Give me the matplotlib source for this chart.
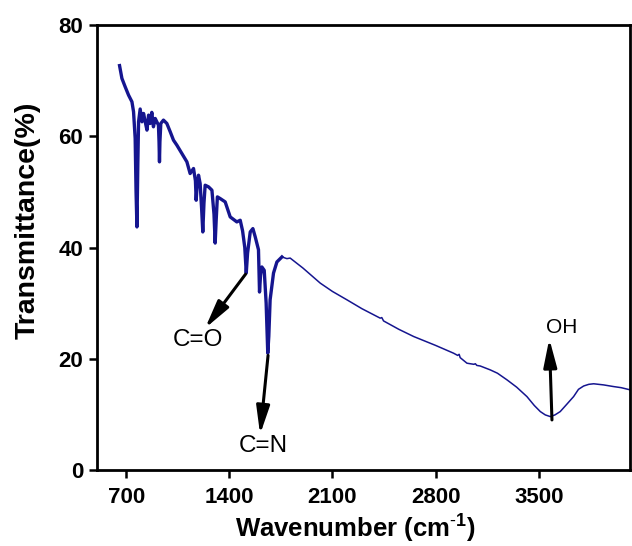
import matplotlib
matplotlib.use("Agg")
import matplotlib.pyplot as plt

plt.rcParams['font.family'] = ['Liberation Sans', 'DejaVu Sans']
plt.rcParams['mathtext.fontset'] = 'custom'
plt.rcParams['mathtext.rm'] = 'Liberation Sans'
plt.rcParams['mathtext.bf'] = 'Liberation Sans:bold'

# FTIR spectrum, wavenumber (cm-1) vs transmittance (%)
wavenumber = [655, 671, 693, 716, 739, 750, 761, 767, 773, 779, 784, 795, 807, 818,
              830, 841, 852, 863, 874, 885, 897, 908, 919, 923, 926, 929, 935, 953,
              976, 999, 1021, 1044, 1078, 1112, 1134, 1157, 1170, 1175, 1180, 1191,
              1202, 1212, 1220, 1228, 1236, 1259, 1282, 1296, 1304, 1311, 1319, 1338,
              1372, 1406, 1451, 1474, 1490, 1505, 1515, 1524, 1542, 1560, 1576, 1598,
              1605, 1612, 1621, 1637, 1650, 1661, 1668, 1677, 1700, 1723, 1757, 1791,
              1813, 1900, 2017, 2100, 2198, 2300, 2424, 2435, 2447, 2550, 2651, 2800,
              2922, 2950, 2960, 2967, 3013, 3060, 3070, 3080, 3103, 3171, 3220, 3285,
              3350, 3420, 3470, 3511, 3545, 3579, 3610, 3646, 3690, 3737, 3770, 3805,
              3840, 3873, 3940, 4008, 4060, 4122]
transmittance = [72.7, 70.4, 68.9, 67.4, 66.2, 64.4, 59.6, 50.0, 43.7, 55.0, 62.6, 64.9,
                 62.6, 64.1, 62.5, 61.1, 63.8, 62.3, 64.3, 61.7, 63.2, 62.6, 62.0, 59.0,
                 55.4, 59.0, 62.3, 62.9, 62.3, 60.8, 59.3, 58.4, 56.9, 55.4, 53.3, 54.2,
                 52.0, 48.5, 50.5, 53.0, 51.5, 47.0, 42.8, 48.0, 51.2, 50.9, 50.3, 46.0,
                 40.8, 45.0, 49.1, 48.8, 48.2, 45.5, 44.6, 44.9, 43.0, 40.0, 35.4, 39.0,
                 42.8, 43.4, 41.9, 39.6, 32.0, 35.0, 36.5, 35.9, 30.0, 21.0, 24.0, 30.6,
                 35.4, 37.4, 38.3, 38.0, 38.1, 36.3, 33.6, 32.1, 30.6, 29.0, 27.3, 27.4,
                 26.8, 25.3, 24.0, 22.4, 21.0, 20.6, 20.8, 20.2, 19.2, 19.0, 19.1, 18.8,
                 18.7, 18.0, 17.4, 16.2, 14.9, 13.2, 11.6, 10.5, 9.9, 9.6, 9.9, 10.5,
                 11.8, 13.2, 14.5, 15.1, 15.4, 15.5, 15.3, 15.0, 14.8, 14.4]

xticks = [700, 1400, 2100, 2800, 3500]
yticks = [0, 20, 40, 60, 80]

# band labels: text, text position, arrow tail (on curve), arrow head, font size
bands = [
    ("C=O", (1189, 23.4), (1510, 35.2), (1236, 25.5), 17.5),
    ("C=N", (1630, 4.4), (1663, 20.6), (1609, 6.4), 17.5),
    ("OH", (3655, 25.6), (3590, 9.0), (3572, 23.6), 15),
]

fig = plt.figure(figsize=(6.32, 5.46), dpi=100)
ax = fig.add_axes([0.1535, 0.1392, 0.8434, 0.815])

color = '#15158f'
split = wavenumber.index(1757)
# the fingerprint region is drawn heavier than the smooth tail
ax.plot(wavenumber[:split + 1], transmittance[:split + 1], color=color, lw=2.4,
        solid_joinstyle='round')
ax.plot(wavenumber[split:], transmittance[split:], color=color, lw=1.1)

for label, txt_pos, tail, head, fs in bands:
    ax.annotate('', xy=head, xytext=tail,
                arrowprops=dict(arrowstyle='-|>,head_length=0.85,head_width=0.2',
                                mutation_scale=20, lw=2.2, color='black',
                                shrinkA=0, shrinkB=0))
    ax.text(txt_pos[0], txt_pos[1], label, fontsize=fs, ha='center', va='center')

ax.set_xlim(502, 4120)
ax.set_ylim(0, 80)
ax.set_xticks(xticks)
ax.set_yticks(yticks)

for sp in ax.spines.values():
    sp.set_linewidth(2.0)
ax.tick_params(axis='both', direction='out', length=6, width=1.8, labelsize=16)
ax.tick_params(axis='x', pad=6)
ax.tick_params(axis='y', pad=4)
for lab in ax.get_xticklabels() + ax.get_yticklabels():
    lab.set_fontweight('bold')

ax.set_xlabel(r'Wavenumber (cm$^{\mathbf{\text{-}1}}$)', fontsize=18.5, fontweight='bold')
ax.set_ylabel('Transmittance(%)', fontsize=20.5, fontweight='bold')
ax.xaxis.set_label_coords(0.484, -0.093)
ax.yaxis.set_label_coords(-0.105, 0.562)

fig.savefig('out.png', dpi=100)
